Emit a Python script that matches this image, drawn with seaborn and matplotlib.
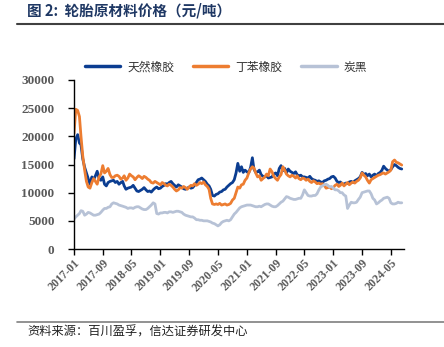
import matplotlib
matplotlib.use("Agg")
import matplotlib.pyplot as plt
from matplotlib.lines import Line2D
import seaborn as sns
import pandas as pd

# ---------------- data (semi-monthly readings, 2017-01 .. 2024-08) ----------------
natural_rubber = [
    16000, 19500, 20300, 18800, 18500, 16000, 14500, 13500, 12500, 11500, 12800, 12300,
    13000, 13800, 12500, 12200, 12800, 11500, 11200, 11800, 12000, 12100, 12200, 11800,
    12000, 11500, 11800, 12000, 11200, 10600, 10800, 10900, 11000, 11300, 10800, 10300,
    10200, 10400, 10600, 10900, 10500, 10200, 10300, 10100, 10500, 10800, 11000, 10700,
    10800, 11100, 11300, 11600, 11500, 11800, 12000, 11600, 11300, 11000, 11400, 11200,
    11000, 10700, 10600, 10800, 11000, 10800, 10900, 11300, 11800, 12300, 12400, 12600,
    12300, 12000, 11500, 11200, 10600, 9500, 9400, 9700, 9800, 10100, 10200, 10500,
    10600, 11000, 11300, 11600, 11800, 12300, 13500, 15200, 13800, 14600, 13600, 14000,
    13700, 13500, 14500, 16200, 14200, 13600, 13700, 14000, 13200, 12900, 12800, 13000,
    12600, 12700, 12800, 13300, 13500, 13000, 14300, 14800, 13900, 14300, 13500, 14200,
    13800, 13600, 13400, 13700, 13200, 13000, 13100, 12800, 12800, 12700, 12600, 12900,
    12500, 12300, 12200, 12000, 12100, 11900, 11800, 12100, 12200, 12400, 12500, 12800,
    12900, 12600, 12000, 11800, 11900, 11600, 11500, 11700, 11600, 11900, 12000, 11800,
    12100, 12300, 12500, 12800, 13600, 13200, 13400, 13000, 13300, 12800, 13100, 13300,
    13000, 13400, 13600, 14000, 14700, 14300, 14000, 13800, 14100, 14600, 15000, 14800,
    14500, 14300, 14200,
]
styrene_butadiene = [
    20500, 24800, 24600, 23500, 20000, 16500, 14000, 12000, 11000, 10800, 11800, 12500,
    12000, 11500, 12800, 13300, 14800, 13500, 13800, 14300, 13200, 12700, 12700, 13000,
    13100, 12900, 12400, 12600, 13000, 12200, 12600, 13300, 13000, 12800, 12300, 12700,
    13000, 12800, 12500, 12900, 12700, 12400, 12200, 11800, 11700, 12000, 11800, 11600,
    11400, 11800, 11600, 11300, 11200, 11500, 11300, 11000, 10600, 10300, 10500, 10900,
    10800, 11100, 10900, 10600, 11000, 11300, 11200, 11600, 11300, 11500, 11800, 11600,
    11900, 11400, 11100, 10600, 9000, 8000, 7900, 8000, 7900, 8100, 7800, 7900,
    8000, 7800, 7900, 8100, 8700, 9000, 10000, 11000, 10800, 11400, 11500, 12200,
    12600, 13500, 14200, 14600, 14400, 13500, 12800, 13000, 12200, 12500, 12800, 13300,
    13000, 14200, 13700, 12900, 12500, 12200, 12800, 13200, 14600, 14000, 13300, 13000,
    12800, 13100, 12900, 12600, 13000, 12500, 12300, 12600, 12500, 12200, 12400, 12000,
    11800, 12100, 11900, 11600, 11700, 11500, 11600, 11300, 10800, 10900, 11000, 10700,
    10900, 11300, 11500, 11100, 11300, 11700, 11200, 11500, 11800, 11400, 11700, 11900,
    11700, 12000, 12200, 12600, 13500, 13100, 12800, 12200, 11700, 12300, 12500, 12700,
    12900, 13100, 13200, 13400, 13500, 13300, 13500, 13700, 14000, 15500, 15800, 15400,
    15300, 15100, 14900,
]
carbon_black = [
    5300, 5700, 6000, 6300, 6800, 6700, 6000, 6200, 6500, 6400, 6200, 6000,
    6000, 6100, 6200, 6500, 6900, 7200, 7200, 7400, 7500, 8000, 8200, 8100,
    8000, 7800, 7700, 7600, 7500, 7400, 7200, 7300, 7300, 7200, 7400, 7500,
    7500, 7300, 7100, 7000, 7000, 7200, 7500, 7800, 8200, 8000, 6300, 6200,
    6400, 6400, 6500, 6500, 6400, 6600, 6600, 6500, 6600, 6700, 6700, 6600,
    6500, 6200, 6000, 5900, 5800, 5700, 5700, 5500, 5200, 5200, 5100, 5100,
    5000, 5000, 5000, 4900, 4800, 4600, 4500, 4300, 4100, 4300, 4700, 4900,
    5000, 5100, 5000, 5200, 5700, 6200, 6500, 6900, 7300, 7500, 7600, 7700,
    7800, 7800, 7800, 7700, 7600, 7500, 7500, 7600, 7500, 7700, 7900, 8000,
    8000, 7800, 7600, 7500, 7500, 7700, 8000, 8300, 8500, 8900, 9300, 9200,
    9000, 8900, 8800, 8800, 8900, 9000, 9000, 9600, 10500, 10000, 9500, 9400,
    9400, 9500, 9500, 9800, 10500, 11000, 11200, 11400, 11500, 11300, 11000, 11100,
    10800, 10500, 10500, 10300, 10000, 10000, 9600, 9400, 7200, 7800, 8300, 8200,
    8200, 8300, 8800, 9200, 10000, 10100, 10200, 10300, 10300, 9800, 9000, 8700,
    8000, 8200, 8500, 8700, 9000, 9100, 9200, 9000, 8200, 8000, 8000, 8100,
    8300, 8200, 8200,
]
series_names = ["天然橡胶", "丁苯橡胶", "炭黑"]
x_tick_labels = ["2017-01", "2017-09", "2018-05", "2019-01", "2019-09", "2020-05",
                 "2021-01", "2021-09", "2022-05", "2023-01", "2023-09", "2024-05"]
y_ticks = [0, 5000, 10000, 15000, 20000, 25000, 30000]

# ---------------- build frame ----------------
months = pd.date_range("2017-01-01", "2024-08-01", freq="MS")
dates = []
for m in months:
    dates.append(m)
    if m < months[-1]:
        dates.append(m + pd.Timedelta(days=15))
dates = dates[:len(natural_rubber)]

frames = []
for name, vals in zip(series_names, [natural_rubber, styrene_butadiene, carbon_black]):
    frames.append(pd.DataFrame({"date": dates, "value": vals, "series": name}))
df = pd.concat(frames, ignore_index=True)

# ---------------- plot ----------------
sns.set_theme(style="white")
plt.rcParams["font.family"] = ["Noto Sans CJK SC", "DejaVu Sans"]

colors = {"天然橡胶": "#0B3D91", "丁苯橡胶": "#ED7D31", "炭黑": "#B7C2D6"}

fig = plt.figure(figsize=(4.44, 3.47), dpi=100)
ax = fig.add_axes([74 / 444, 1 - 249 / 347, (404 - 74) / 444, (249 - 80) / 347])

sns.lineplot(data=df, x="date", y="value", hue="series", hue_order=series_names,
             palette=colors, linewidth=2.0, ax=ax, legend=False)

ax.set_xlim(pd.Timestamp("2017-01-01"), pd.Timestamp("2024-08-20"))
ax.set_ylim(0, 30000)
ax.set_yticks(y_ticks)
ax.set_yticklabels([str(v) for v in y_ticks])
tick_dates = [pd.Timestamp(t + "-01") for t in x_tick_labels]
ax.set_xticks(tick_dates)
ax.set_xticklabels(x_tick_labels)
ax.set_xlabel("")
ax.set_ylabel("")

for side in ["top", "right"]:
    ax.spines[side].set_visible(False)
for side in ["left", "bottom"]:
    ax.spines[side].set_color("black")
    ax.spines[side].set_linewidth(1.0)

ax.tick_params(axis="both", which="major", direction="out", length=4, width=1,
               color="black", bottom=True, left=True)
ax.tick_params(axis="y", pad=10)
ax.tick_params(axis="x", pad=2)
for lab in ax.get_yticklabels():
    lab.set_fontfamily("Liberation Serif")
    lab.set_fontweight("bold")
    lab.set_fontsize(9.5)
    lab.set_color("#595959")
for lab in ax.get_xticklabels():
    lab.set_fontfamily("Liberation Serif")
    lab.set_fontweight("bold")
    lab.set_fontsize(8.5)
    lab.set_color("#595959")
    lab.set_rotation(45)
    lab.set_ha("right")
    lab.set_rotation_mode("anchor")
ax.grid(False)

handles = [Line2D([0], [0], color=colors[n], lw=2.5) for n in series_names]
fig.legend(handles, series_names, loc="center", bbox_to_anchor=(226 / 444, 1 - 67 / 347),
           ncol=3, frameon=False, fontsize=8.5, handlelength=3.0, columnspacing=1.6,
           handletextpad=0.6, labelcolor="#333333")

# title and rules
fig.text(27 / 444, 1 - 10 / 347, "图 2:  轮胎原材料价格（元/吨）", fontsize=10.5,
         fontweight="bold", color="#1F3864", va="center", ha="left")
fig.add_artist(Line2D([17 / 444, 1.0], [1 - 24 / 347, 1 - 24 / 347], color="#404040", lw=1.5))
fig.add_artist(Line2D([17 / 444, 1.0], [1 - 322 / 347, 1 - 322 / 347], color="#7F7F7F", lw=1.2))
fig.text(27 / 444, 1 - 332 / 347, "资料来源：百川盈孚，信达证券研发中心", fontsize=8.8,
         style="italic", color="#222222", va="center", ha="left")

fig.savefig("out.png", dpi=100, facecolor="white")
